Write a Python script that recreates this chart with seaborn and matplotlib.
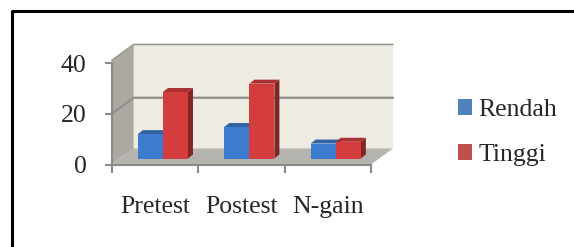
import matplotlib
matplotlib.use("Agg")
import matplotlib.pyplot as plt
import matplotlib.transforms as mtransforms
from matplotlib.patches import Polygon, Patch
from matplotlib.lines import Line2D
import numpy as np
import pandas as pd
import seaborn as sns

# ---- data ----
categories = ["Pretest", "Postest", "N-gain"]
series = ["Rendah", "Tinggi"]
rendah = [9.6, 12.4, 5.9]
tinggi = [26.2, 29.5, 6.6]
yticks = [0, 20, 40]

df = pd.DataFrame({
    "Kategori": categories * 2,
    "Kelompok": [series[0]] * 3 + [series[1]] * 3,
    "Nilai": rendah + tinggi,
})

sns.set_theme(style="white")
plt.rcParams["font.family"] = ["Liberation Serif", "DejaVu Serif"]
FS = 18.5

W, H, DPI = 574, 247, 100
fig = plt.figure(figsize=(W / DPI, H / DPI), dpi=DPI)
fig.patch.set_facecolor("white")

ax_l, ax_r, ax_t, ax_b = 111.7, 371.0, 63.0, 164.5
ax = fig.add_axes([ax_l / W, (H - ax_b) / H, (ax_r - ax_l) / W, (ax_b - ax_t) / H])

c_blue, c_red = "#3C7BCD", "#D43D3D"
sns.barplot(data=df, x="Kategori", y="Nilai", hue="Kelompok", order=categories,
            hue_order=series, palette=[c_blue, c_red], width=0.58, saturation=1,
            ax=ax, legend=False, zorder=3, edgecolor="none")
bars = list(ax.patches)

ax.set_xlim(-0.5, len(categories) - 0.5)
ax.set_ylim(0, 40)
ax.patch.set_visible(False)
ax.set_xlabel("")
ax.set_ylabel("")

# depth of the 3D box (pixels) and position of bars inside it
DX, DY = 22.0, 16.0
BDX, BDY = 8.0, 6.0     # bar front-face depth offset
FDX, FDY = 5.0, 4.0     # bar thickness

ident = mtransforms.IdentityTransform()

def px(x, y, d=0.0):
    X, Y = ax.transData.transform((x, y))
    return (X + d * DX, Y + d * DY)

WALL_TOP = 41.0
# back wall
back = Polygon([px(-0.5, 0, 1), px(2.5, 0, 1), px(2.5, WALL_TOP, 1), px(-0.5, WALL_TOP, 1)],
               closed=True, transform=ident, facecolor="#EEECE2", edgecolor="none",
               zorder=0.5, clip_on=False)
ax.add_artist(back)
# side wall
side = Polygon([px(-0.5, 0, 0), px(-0.5, 0, 1), px(-0.5, WALL_TOP, 1), px(-0.5, WALL_TOP, 0)],
               closed=True, transform=ident, facecolor="#ABA9A1", edgecolor="none",
               zorder=0.6, clip_on=False)
ax.add_artist(side)
# floor
floor = Polygon([px(-0.5, 0, 0), px(2.5, 0, 0), px(2.5, 0, 1), px(-0.5, 0, 1)],
                closed=True, transform=ident, facecolor="#B5B3AD", edgecolor="none",
                zorder=0.7, clip_on=False)
ax.add_artist(floor)
# wall top edge and gridline
for yv, col, lw in [(20, "#8F8F8A", 1.6), (WALL_TOP, "#9A9A95", 1.2)]:
    p0, p1, p2 = px(-0.5, yv, 0), px(-0.5, yv, 1), px(2.5, yv, 1)
    ax.add_artist(Line2D([p0[0], p1[0], p2[0]], [p0[1], p1[1], p2[1]], transform=ident,
                         color=col, lw=lw, zorder=0.8, clip_on=False))

def shade(c, f):
    rgb = np.array(matplotlib.colors.to_rgb(c))
    if f < 1:
        return tuple(rgb * f)
    return tuple(rgb + (1 - rgb) * (f - 1))

off = mtransforms.ScaledTranslation(BDX / DPI, BDY / DPI, fig.dpi_scale_trans)
for b in bars:
    x0, w, h = b.get_x(), b.get_width(), b.get_height()
    col = b.get_facecolor()
    b.set_transform(ax.transData + off)
    b.set_clip_on(False)
    xl, yb = ax.transData.transform((x0, 0))
    xr, yt = ax.transData.transform((x0 + w, h))
    xl += BDX; xr += BDX; yb += BDY; yt += BDY
    sidep = Polygon([(xr, yb), (xr, yt), (xr + FDX, yt + FDY), (xr + FDX, yb + FDY)],
                    closed=True, transform=ident, facecolor=shade(col, 0.62),
                    edgecolor="none", zorder=2.5, clip_on=False)
    topp = Polygon([(xl, yt), (xr, yt), (xr + FDX, yt + FDY), (xl + FDX, yt + FDY)],
                   closed=True, transform=ident, facecolor=shade(col, 0.8),
                   edgecolor="none", zorder=2.5, clip_on=False)
    ax.add_artist(sidep)
    ax.add_artist(topp)

# axes lines / ticks
for s in ["top", "right"]:
    ax.spines[s].set_visible(False)
for s in ["left", "bottom"]:
    ax.spines[s].set_color("#8A8A8A")
    ax.spines[s].set_linewidth(1.5)
    ax.spines[s].set_zorder(4)

ax.set_yticks(yticks)
ax.set_yticklabels([str(v) for v in yticks], fontsize=FS)
ax.tick_params(axis="y", direction="out", length=5, width=1.5, color="#8A8A8A",
               pad=13, left=True)
ax.set_xticks(np.arange(-0.5, len(categories), 1.0))
ax.set_xticklabels([])
ax.set_xticks(range(len(categories)), minor=True)
ax.set_xticklabels(categories, minor=True, fontsize=FS)
ax.tick_params(axis="x", which="major", direction="out", length=6, width=1.5,
               color="#8A8A8A", bottom=True)
ax.tick_params(axis="x", which="minor", length=0, pad=23)
ax.grid(False)

# legend
handles = [Patch(facecolor="#4F81BD", edgecolor="none"),
           Patch(facecolor="#C0504D", edgecolor="none")]
fig.legend(handles, series, loc="center left", bbox_to_anchor=(458 / W, (H - 132.5) / H),
           frameon=False, fontsize=FS, handlelength=0.55, handleheight=0.55,
           handletextpad=0.25, labelspacing=0.9, borderpad=0, borderaxespad=0)

# outer frame (left and top edges)
fig.add_artist(Line2D([11.5 / W, 11.5 / W, 1.0], [0.0, 1 - 11.5 / H, 1 - 11.5 / H],
                      transform=fig.transFigure, color="black", lw=2.2,
                      solid_capstyle="projecting"))

fig.savefig("out.png", dpi=DPI, facecolor="white")
